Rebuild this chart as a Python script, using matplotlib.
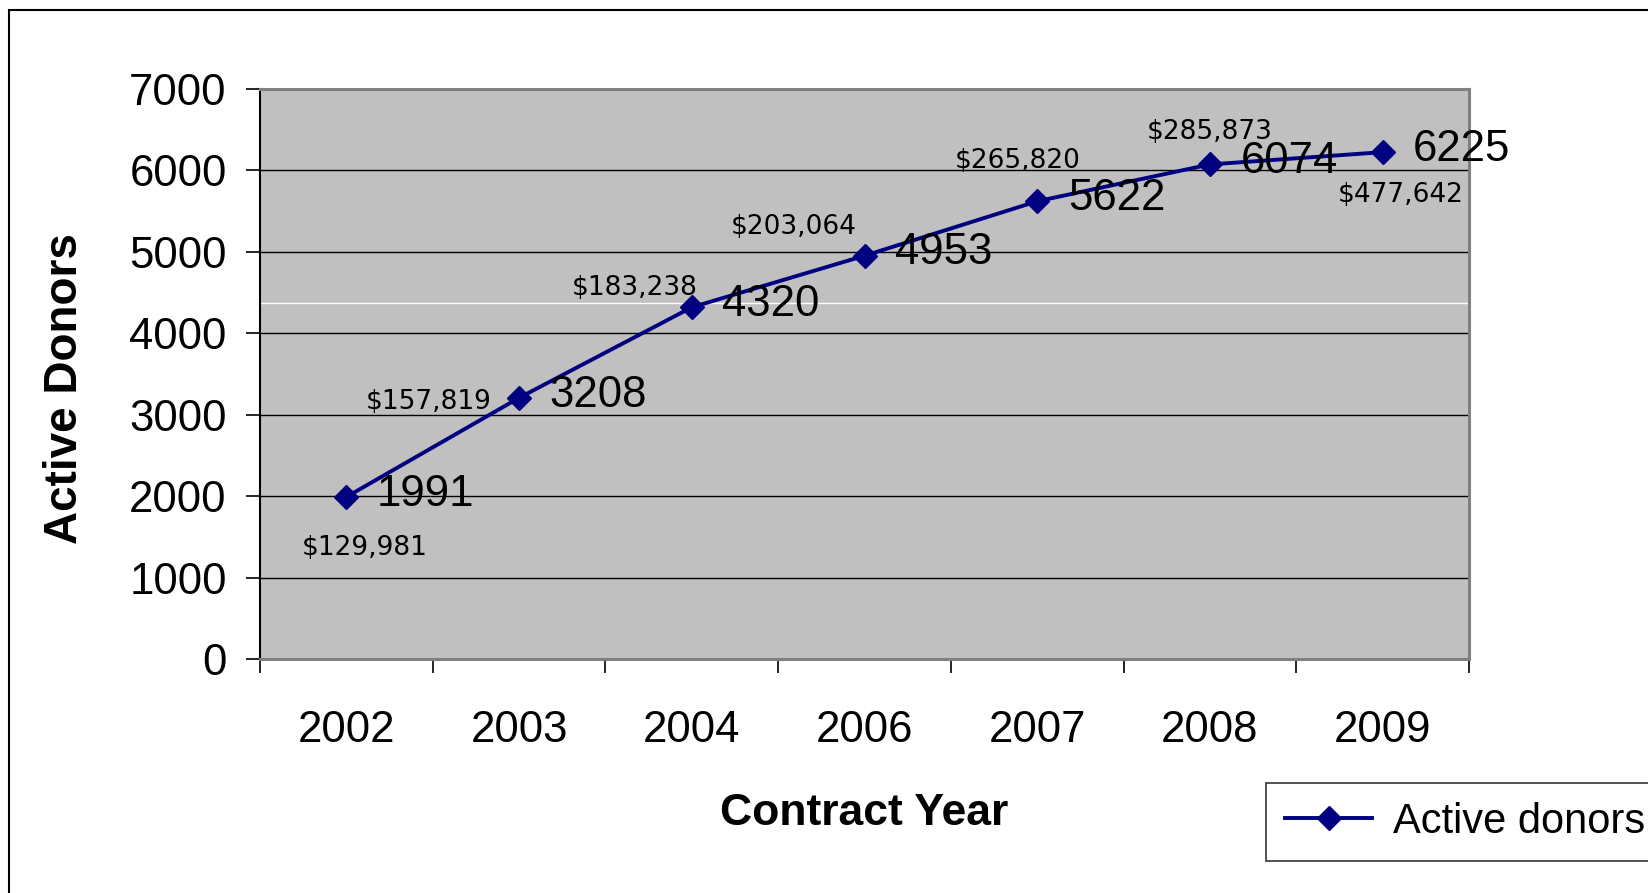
import matplotlib
matplotlib.use("Agg")
import matplotlib.pyplot as plt
from matplotlib.patches import Rectangle

# contract years and active donor counts
years = ["2002", "2003", "2004", "2006", "2007", "2008", "2009"]
donors = [1991, 3208, 4320, 4953, 5622, 6074, 6225]
amounts = ["$129,981", "$157,819", "$183,238", "$203,064",
           "$265,820", "$285,873", "$477,642"]
# where each dollar label sits relative to its point (points)
amount_offsets = [(13, -37), (-65, -3), (-41, 14), (-51, 21),
                  (-14, 29), (0, 23), (13, -31)]

plt.rcParams['font.family'] = ['Liberation Sans', 'DejaVu Sans']
navy = "#000080"

fig = plt.figure(figsize=(16.48, 8.93), dpi=100)
ax = fig.add_axes([0.1578, 0.262, 0.7336, 0.6383])
ax.set_facecolor("#C0C0C0")

x = list(range(len(years)))
ax.plot(x, donors, color=navy, lw=2.8, marker="D", ms=12.5, label="Active donors", zorder=3)

for xi, v, amt, off in zip(x, donors, amounts, amount_offsets):
    ax.annotate(str(v), (xi, v), xytext=(22, 2), textcoords="offset points",
                ha="left", va="center", fontsize=31.5, zorder=4)
    ax.annotate(amt, (xi, v), xytext=off, textcoords="offset points",
                ha="center", va="center", fontsize=19, family="DejaVu Sans", zorder=4)

ax.set_xlim(-0.5, len(years) - 0.5)
ax.set_ylim(0, 7000)
ax.set_yticks(range(0, 7001, 1000))
ax.yaxis.grid(True, color="black", lw=1)
ax.axhline(4370, color="white", lw=1, zorder=1)
ax.set_axisbelow(True)

# category boundaries get the tick marks, centres get the labels
ax.set_xticks([i - 0.5 for i in range(len(years) + 1)])
ax.set_xticklabels([])
ax.set_xticks(x, minor=True)
ax.set_xticklabels(years, minor=True)
ax.tick_params(axis="x", which="major", length=10, width=1.2, color="black")
ax.tick_params(axis="x", which="minor", length=0, pad=37, labelsize=31.5)
ax.tick_params(axis="y", length=10, width=1.2, pad=14, labelsize=31.5)

for side in ["top", "right", "bottom"]:
    ax.spines[side].set_color("#808080")
    ax.spines[side].set_linewidth(2.2)
ax.spines["left"].set_color("black")
ax.spines["left"].set_linewidth(1.5)

ax.set_ylabel("Active Donors", fontsize=33, fontweight="bold")
ax.yaxis.set_label_coords(-0.143, 0.474)
ax.set_xlabel("Contract Year", fontsize=32, fontweight="bold", labelpad=30)

leg = fig.legend(loc="upper left", bbox_to_anchor=(1266 / 1648, 1 - 783 / 893),
                 fontsize=30, frameon=True, fancybox=False, handlelength=2.1,
                 handletextpad=0.5, borderpad=0.45, borderaxespad=0)
leg.get_frame().set_edgecolor("black")
leg.get_frame().set_linewidth(1.2)

# outer chart border
fig.patches.append(Rectangle((9 / 1648, -0.2), 2.0, 1.2 - 10 / 893,
                             transform=fig.transFigure, fill=False,
                             edgecolor="black", lw=1.5))

fig.savefig("out.png", dpi=100)
